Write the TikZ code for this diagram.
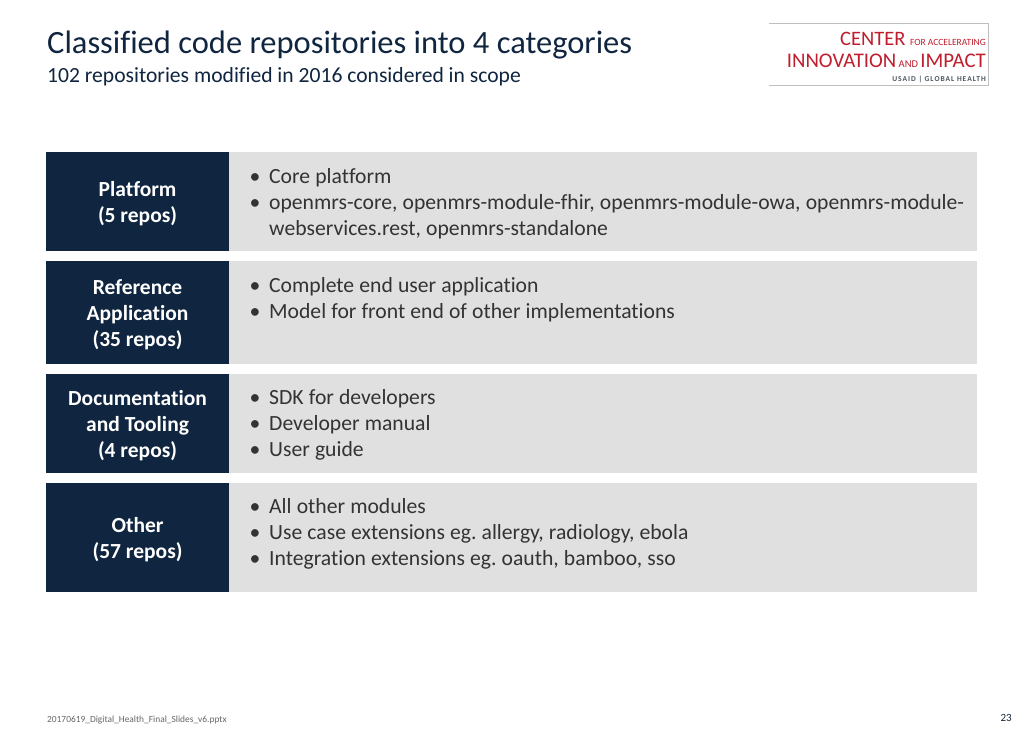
\documentclass[tikz,border=0pt]{standalone}
\usepackage{fontspec}
\setmainfont{Carlito}[Ligatures=NoCommon]
\newfontfamily\itemfam{Carlito}[Ligatures=NoCommon,WordSpace=1.05]
\usetikzlibrary{positioning}
\definecolor{navy}{HTML}{10253F}
\definecolor{band}{HTML}{E0E0E0}
\definecolor{logored}{HTML}{BE1E2D}
\definecolor{logogrey}{HTML}{4A5560}
\newcommand{\bul}{\makebox[17pt][l]{\kern-2.5pt\textbullet}}
\newcommand{\headtext}[1]{\raisebox{-7.4pt}[0pt][0pt]{\parbox[c]{182pt}{\centering #1}}}
\newcommand{\itemtext}[1]{\parbox[t]{720pt}{\raggedright #1}}
\begin{document}
\begin{tikzpicture}[x=1pt,y=-1pt,
    head/.style = {fill=navy, text=white, font=\fontsize{21.5}{26}\selectfont\bfseries, minimum width=182.5pt, inner sep=0pt},
    band/.style = {fill=band, minimum width=748pt, inner sep=0pt},
    item/.style = {text=black!80, font=\itemfam\fontsize{21.65}{26}\selectfont\frenchspacing, anchor=north west, inner sep=0pt}]
    \useasboundingbox (0,0) rectangle (1024,732);
    \fill[white] (0,0) rectangle (1024,732);
    \node (title) [anchor=west, inner sep=0pt, text=navy, font=\fontsize{32.5}{36}\selectfont] at (47,45) {Classified code repositories into 4 categories};
    \node (subtitle) [anchor=west, inner sep=0pt, text=navy, font=\fontsize{21.6}{24}\selectfont] at (47,76.5) {102 repositories modified in 2016 considered in scope};
    \node (logo) [anchor=north west, minimum width=219pt, minimum height=62pt, inner sep=0pt] at (769,23) {};
    \draw[black!25, line width=.7pt] (logo.north west) -- (logo.north east) -- (logo.south east) -- (logo.south west);
    \node (logoa) [anchor=east, inner sep=0pt, text=logored, font=\fontsize{20.5}{22}\selectfont] at (986,39) {CENTER {\fontsize{9.5}{12}\selectfont FOR ACCELERATING}};
    \node (logob) [anchor=east, inner sep=0pt, text=logored, font=\fontsize{20.8}{22}\selectfont] at (986,61) {INNOVATION{\fontsize{10.5}{12}\selectfont\ AND\ }IMPACT};
    \node (logoc) [anchor=east, inner sep=0pt, text=logogrey, font=\fontsize{7.5}{8}\selectfont\bfseries\addfontfeatures{LetterSpace=13}] at (986,79) {USAID | GLOBAL HEALTH};

    \node (band1) [band, minimum height=99pt, anchor=north west] at (229,152) {};
    \node (band2) [band, minimum height=103pt, anchor=north west] at (229,261) {};
    \node (band3) [band, minimum height=99pt, anchor=north west] at (229,374) {};
    \node (band4) [band, minimum height=109pt, anchor=north west] at (229,483) {};
    \node (head1) [head, minimum height=99pt, anchor=north east] at (229,152) {\headtext{Platform\\(5 repos)}};
    \node (head2) [head, minimum height=103pt, anchor=north east] at (229,261) {\headtext{Reference\\Application\\(35 repos)}};
    \node (head3) [head, minimum height=99pt, anchor=north east] at (229,374) {\headtext{Documentation\\and Tooling\\(4 repos)}};
    \node (head4) [head, minimum height=109pt, anchor=north east] at (229,483) {\headtext{Other\\(57 repos)}};

    \node (text1) [item] at (252,168) {\itemtext{\bul Core platform\\\bul openmrs-core, openmrs-module-fhir, openmrs-module-owa, openmrs-module-\\\hspace*{17pt}webservices.rest, openmrs-standalone}};
    \node (text2) [item] at (252,277) {\itemtext{\bul Complete end user application\\\bul Model for front end of other implementations}};
    \node (text3) [item] at (252,389) {\itemtext{\bul SDK for developers\\\bul Developer manual\\\bul User guide}};
    \node (text4) [item] at (252,498) {\itemtext{\bul All other modules\\\bul Use case extensions eg. allergy, radiology, ebola\\\bul Integration extensions eg. oauth, bamboo, sso}};

    \node (file) [anchor=west, inner sep=0pt, text=black!60, font=\fontsize{9.4}{11}\selectfont] at (47,720.5) {20170619\_Digital\_Health\_Final\_Slides\_v6.pptx};
    \node (page) [anchor=east, inner sep=0pt, text=navy, font=\fontsize{11}{12}\selectfont] at (1012,718) {23};
\end{tikzpicture}
\end{document}
